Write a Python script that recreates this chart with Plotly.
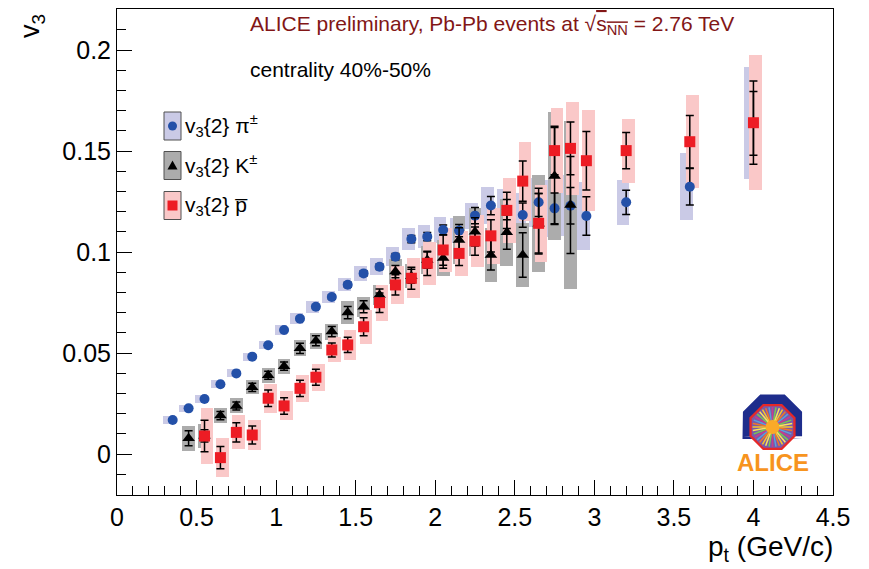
import plotly.graph_objects as go

# ---------------- data ----------------
pt_pi = [0.35, 0.45, 0.55, 0.65, 0.75, 0.85, 0.95, 1.05, 1.15, 1.25, 1.35, 1.45, 1.55, 1.65, 1.75,
         1.85, 1.95, 2.05, 2.15, 2.25, 2.35, 2.45, 2.55, 2.65, 2.75, 2.85, 2.95, 3.2, 3.6, 4.0]
v3_pi = [0.0168, 0.0226, 0.0272, 0.0345, 0.0399, 0.0482, 0.0538, 0.0614, 0.0670, 0.0729, 0.0777,
         0.0838, 0.0894, 0.0927, 0.0977, 0.1064, 0.1076, 0.1109, 0.1106, 0.1180, 0.1230, 0.1210,
         0.1183, 0.1246, 0.1216, 0.1229, 0.1178, 0.1246, 0.1323, 0.1637]
stat_pi = [0.0005, 0.0005, 0.0005, 0.0006, 0.0006, 0.0007, 0.0007, 0.0008, 0.0009, 0.0010, 0.0011,
           0.0012, 0.0013, 0.0014, 0.0016, 0.0018, 0.0020, 0.0025, 0.0030, 0.0040, 0.0045, 0.0050,
           0.0060, 0.0070, 0.0076, 0.0090, 0.0095, 0.0060, 0.0090, 0.0158]
sys_pi = [0.0018, 0.0018, 0.0018, 0.0020, 0.0020, 0.0020, 0.0020, 0.0025, 0.0027, 0.0030, 0.0030,
          0.0033, 0.0038, 0.0042, 0.0048, 0.0054, 0.0056, 0.0063, 0.0063, 0.0064, 0.0090, 0.0100,
          0.0110, 0.0120, 0.0140, 0.0150, 0.0170, 0.0110, 0.0167, 0.0277]

pt_k = [0.45, 0.55, 0.65, 0.75, 0.85, 0.95, 1.05, 1.15, 1.25, 1.35, 1.45, 1.55, 1.65, 1.75, 1.85,
        1.95, 2.05, 2.15, 2.25, 2.35, 2.45, 2.55, 2.65, 2.75, 2.85]
v3_k = [0.0078, 0.0090, 0.0190, 0.0238, 0.0330, 0.0390, 0.0435, 0.0523, 0.0561, 0.0606, 0.0700,
        0.0729, 0.0787, 0.0903, 0.0880, 0.0960, 0.0970, 0.1060, 0.1100, 0.0985, 0.1098, 0.0985,
        0.1140, 0.1376, 0.1233]
stat_k = [0.0037, 0.0030, 0.0020, 0.0020, 0.0020, 0.0020, 0.0020, 0.0025, 0.0025, 0.0025, 0.0030,
          0.0030, 0.0030, 0.0030, 0.0035, 0.0040, 0.0050, 0.0060, 0.0070, 0.0074, 0.0085, 0.0110,
          0.0150, 0.0240, 0.0240]
sys_k = [0.0062, 0.0060, 0.0037, 0.0037, 0.0035, 0.0037, 0.0037, 0.0040, 0.0040, 0.0040, 0.0055,
         0.0050, 0.0050, 0.0060, 0.0060, 0.0070, 0.0090, 0.0120, 0.0120, 0.0134, 0.0165, 0.0160,
         0.0240, 0.0316, 0.0417]

pt_p = [0.55, 0.65, 0.75, 0.85, 0.95, 1.05, 1.15, 1.25, 1.35, 1.45, 1.55, 1.65, 1.75, 1.85, 1.95,
        2.05, 2.15, 2.25, 2.35, 2.45, 2.55, 2.65, 2.75, 2.85, 2.95, 3.2, 3.6, 4.0]
v3_p = [0.0089, -0.0018, 0.0107, 0.0094, 0.0276, 0.0238, 0.0325, 0.0380, 0.0515, 0.0540, 0.0630,
        0.0749, 0.0837, 0.0870, 0.0944, 0.1010, 0.0993, 0.1054, 0.1080, 0.1206, 0.1351, 0.1142,
        0.1502, 0.1513, 0.1452, 0.1502, 0.1546, 0.1640]
stat_p = [0.0078, 0.0055, 0.0048, 0.0045, 0.0041, 0.0041, 0.0040, 0.0040, 0.0035, 0.0038, 0.0044,
          0.0048, 0.0050, 0.0054, 0.0060, 0.0075, 0.0060, 0.0070, 0.0080, 0.0090, 0.0100, 0.0147,
          0.0120, 0.0130, 0.0145, 0.0090, 0.0130, 0.0206]
sys_p = [0.0139, 0.0097, 0.0084, 0.0076, 0.0073, 0.0072, 0.0068, 0.0066, 0.0062, 0.0075, 0.0083,
         0.0090, 0.0095, 0.0099, 0.0107, 0.0110, 0.0110, 0.0130, 0.0140, 0.0160, 0.0196, 0.0190,
         0.0210, 0.0230, 0.0250, 0.0158, 0.0230, 0.0335]

legend_labels = ["v<sub>3</sub>{2} π<sup>±</sup>", "v<sub>3</sub>{2} K<sup>±</sup>",
                 "v<sub>3</sub>{2} p\u0305"]

# ---------------- style ----------------
FONT = "Liberation Sans, Arial, Helvetica, sans-serif"
BLUE = "rgb(35,80,168)"
RED = "rgb(237,28,36)"
BLUE_BOX = "rgb(202,202,230)"
GRAY_BOX = "rgb(172,172,172)"
PINK_BOX = "rgb(250,200,200)"
BOX_W = 0.08

W, H = 869, 569
L, R, T, B = 117, 833, 9, 495


def px(x):
    return (x - L) / (R - L)


def py(y):
    return (B - y) / (B - T)


fig = go.Figure()


def add_boxes(pt, v, s, color, off):
    fig.add_trace(go.Bar(
        x=[p + off for p in pt], y=[2 * e for e in s], base=[a - e for a, e in zip(v, s)],
        width=[BOX_W] * len(pt), marker=dict(color=color, line=dict(width=0)),
        showlegend=False, hoverinfo="skip"))


add_boxes(pt_pi, v3_pi, sys_pi, BLUE_BOX, -0.02)
add_boxes(pt_k, v3_k, sys_k, GRAY_BOX, 0.0)
add_boxes(pt_p, v3_p, sys_p, PINK_BOX, 0.015)


def add_points(pt, v, s, color, symbol, size):
    fig.add_trace(go.Scatter(
        x=pt, y=v, mode="markers",
        marker=dict(color=color, symbol=symbol, size=size, line=dict(width=0)),
        error_y=dict(type="data", array=s, visible=True, color="black", thickness=1.5, width=4),
        showlegend=False))


add_points(pt_pi, v3_pi, stat_pi, BLUE, "circle", 10)
add_points(pt_k, v3_k, stat_k, "black", "triangle-up", 11)
add_points(pt_p, v3_p, stat_p, RED, "square", 11)

axis_common = dict(showgrid=False, zeroline=False, showline=True, linecolor="black", linewidth=1,
                   mirror=True, ticks="inside", tickcolor="black", tickwidth=1, ticklen=15,
                   tickfont=dict(family=FONT, size=25, color="black"))

fig.update_xaxes(range=[0, 4.5], dtick=0.5, tick0=0,
                 minor=dict(dtick=0.1, ticks="inside", ticklen=9, tickcolor="black"),
                 **axis_common)
fig.update_yaxes(range=[-0.0203, 0.2203], dtick=0.05, tick0=0,
                 minor=dict(dtick=0.01, ticks="inside", ticklen=9, tickcolor="black"),
                 **axis_common)

annotations = []
annotations.append(dict(
    x=px(248), y=py(25), xref="paper", yref="paper", xanchor="left", yanchor="middle",
    showarrow=False,
    text="ALICE preliminary, Pb-Pb events at √<span style='text-decoration:overline'>s<sub>NN</sub></span> = 2.76 TeV",
    font=dict(family=FONT, size=21, color="rgb(130,22,22)")))
annotations.append(dict(
    x=px(248), y=py(69), xref="paper", yref="paper", xanchor="left", yanchor="middle",
    showarrow=False, text="centrality 40%-50%",
    font=dict(family=FONT, size=21, color="black")))
annotations.append(dict(
    x=px(32), y=py(26), xref="paper", yref="paper", xanchor="center", yanchor="middle",
    showarrow=False, text="v<sub>3</sub>", textangle=-90,
    font=dict(family=FONT, size=27, color="black")))
annotations.append(dict(
    x=px(835), y=py(548), xref="paper", yref="paper", xanchor="right", yanchor="middle",
    showarrow=False, text="p<sub>t</sub> (GeV/c)",
    font=dict(family=FONT, size=28, color="black")))

shapes = []
rows = [(126, BLUE_BOX, BLUE, "circle"), (165.5, GRAY_BOX, "black", "tri"), (205.5, PINK_BOX, RED, "sq")]
for (cy, boxc, mc, kind), lab in zip(rows, legend_labels):
    shapes.append(dict(type="rect", xref="paper", yref="paper",
                       x0=px(164), x1=px(181), y0=py(cy - 14), y1=py(cy + 14),
                       fillcolor=boxc, line=dict(color="rgb(80,80,80)", width=1)))
    if kind == "circle":
        shapes.append(dict(type="circle", xref="paper", yref="paper",
                           x0=px(168), x1=px(177), y0=py(cy - 4.5), y1=py(cy + 4.5),
                           fillcolor=mc, line=dict(width=0)))
    elif kind == "tri":
        shapes.append(dict(type="path", xref="paper", yref="paper",
                           path=f"M {px(167.5)} {py(cy + 4)} L {px(177.5)} {py(cy + 4)} L {px(172.5)} {py(cy - 5)} Z",
                           fillcolor=mc, line=dict(width=0)))
    else:
        shapes.append(dict(type="rect", xref="paper", yref="paper",
                           x0=px(167.5), x1=px(177.5), y0=py(cy - 5), y1=py(cy + 5),
                           fillcolor=mc, line=dict(width=0)))
    annotations.append(dict(
        x=px(183), y=py(cy), xref="paper", yref="paper", xanchor="left", yanchor="middle",
        showarrow=False, text=lab, font=dict(family=FONT, size=21, color="black")))

# ---- ALICE logo (drawn decoration) ----
import math
cx, cy0 = 772.5, 427.0


def octagon(cx, cy, r):
    pts = []
    for k in range(8):
        a = math.radians(22.5 + 45 * k)
        pts.append((cx + r * math.cos(a), cy + r * math.sin(a)))
    return pts


def path_from(pts):
    s = "M " + " L ".join(f"{px(x)} {py(y)}" for x, y in pts) + " Z"
    return s


outer = octagon(cx, cy0 - 3, 32)
blue_pts = [p for p in outer if p[1] <= cy0 + 12]
blue_pts = sorted(blue_pts, key=lambda p: math.atan2(p[1] - (cy0 - 3), p[0] - cx))
shapes.append(dict(type="path", xref="paper", yref="paper",
                   path=path_from([(cx - 30, cy0 + 12)] + [p for p in blue_pts if p[1] < cy0 + 12] + [(cx + 30, cy0 + 12)]),
                   fillcolor="rgb(30,45,140)", line=dict(width=0)))
shapes.append(dict(type="path", xref="paper", yref="paper",
                   path=path_from(octagon(cx, cy0, 25)),
                   fillcolor="rgb(230,40,40)", line=dict(width=0)))
shapes.append(dict(type="path", xref="paper", yref="paper",
                   path=path_from(octagon(cx, cy0, 22.5)),
                   fillcolor="rgb(120,90,170)", line=dict(width=0)))
ray_cols = ["rgb(250,200,40)", "rgb(240,120,40)", "rgb(90,160,220)", "rgb(200,60,140)",
            "rgb(120,200,80)", "rgb(250,230,90)"]
for k in range(36):
    a = math.radians(k * 10)
    shapes.append(dict(type="line", xref="paper", yref="paper",
                       x0=px(cx), y0=py(cy0), x1=px(cx + 20 * math.cos(a)), y1=py(cy0 + 20 * math.sin(a)),
                       line=dict(color=ray_cols[k % len(ray_cols)], width=1.5)))
shapes.append(dict(type="circle", xref="paper", yref="paper",
                   x0=px(cx - 7), x1=px(cx + 7), y0=py(cy0 - 7), y1=py(cy0 + 7),
                   fillcolor="rgb(250,170,40)", line=dict(width=0)))
annotations.append(dict(
    x=px(773), y=py(462), xref="paper", yref="paper", xanchor="center", yanchor="middle",
    showarrow=False, text="<b>ALICE</b>",
    font=dict(family=FONT, size=24, color="rgb(247,148,30)")))

fig.update_layout(
    width=W, height=H, margin=dict(l=L, r=W - R, t=T, b=H - B, pad=0),
    plot_bgcolor="white", paper_bgcolor="white", barmode="overlay", bargap=0,
    showlegend=False, shapes=shapes, annotations=annotations,
    font=dict(family=FONT, color="black"))

fig.write_html("out.html")
